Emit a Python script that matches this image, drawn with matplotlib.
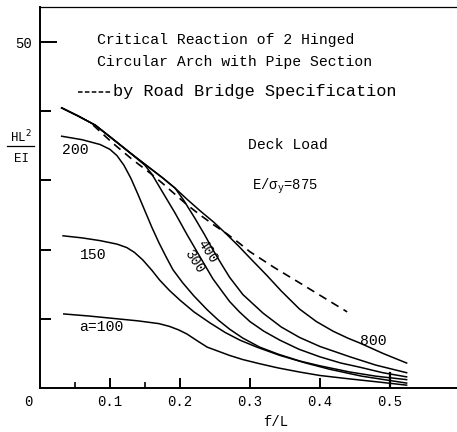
#critical reaction of 2 hinged circular arch, deck load
#curves
import matplotlib.pyplot as plt
from matplotlib.lines import Line2D

plt.rcParams['font.family'] = ['Liberation Mono', 'DejaVu Sans']

#a = 800
x800 = [0.031, 0.055, 0.079, 0.104, 0.13, 0.157, 0.175, 0.193, 0.21, 0.229, 0.248, 0.267, 0.284,
        0.300, 0.324, 0.345, 0.371, 0.395, 0.419, 0.44, 0.457, 0.49, 0.524]
y800 = [40.5, 39.3, 38.0, 36.0, 33.9, 31.8, 30.4, 28.9, 27.3, 25.6, 24.0, 22.2, 20.5,
        18.8, 16.3, 14.0, 11.4, 9.6, 8.2, 7.2, 6.5, 5.0, 3.6]
#a = 400
x400 = [0.031, 0.055, 0.079, 0.104, 0.13, 0.157, 0.175, 0.193, 0.205, 0.221, 0.235, 0.247, 0.26,
        0.271, 0.29, 0.319, 0.345, 0.371, 0.40, 0.443, 0.48, 0.524]
y400 = [40.5, 39.3, 38.0, 36.0, 33.9, 31.8, 30.4, 28.9, 27.2, 24.6, 22.2, 20.0, 17.8,
        16.0, 13.5, 10.8, 8.8, 7.3, 6.0, 4.5, 3.3, 2.2]
#a = 300
x300 = [0.031, 0.055, 0.079, 0.104, 0.13, 0.150, 0.160, 0.170, 0.180, 0.193, 0.210, 0.229, 0.247,
        0.26, 0.271, 0.285, 0.300, 0.32, 0.343, 0.37, 0.400, 0.43, 0.457, 0.49, 0.524]
y300 = [40.5, 39.3, 38.0, 36.0, 33.9, 32.2, 30.9, 29.2, 27.5, 25.3, 22.2, 18.9, 15.8,
        14.0, 12.5, 11.0, 9.6, 8.2, 6.9, 5.6, 4.5, 3.6, 3.0, 2.2, 1.6]
#a = 200
x200 = [0.031, 0.06, 0.086, 0.10, 0.11, 0.12, 0.13, 0.14, 0.15, 0.16, 0.17, 0.18, 0.19, 0.204,
        0.22, 0.239, 0.255, 0.271, 0.29, 0.314, 0.34, 0.371, 0.40, 0.443, 0.48, 0.524]
y200 = [36.4, 35.9, 35.2, 34.5, 33.6, 32.2, 30.3, 28.0, 25.6, 23.2, 21.0, 19.0, 17.1, 15.2,
        13.3, 11.3, 9.8, 8.5, 7.2, 5.9, 4.9, 3.9, 3.2, 2.3, 1.7, 1.2]
#a = 150
x150 = [0.033, 0.06, 0.086, 0.11, 0.124, 0.135, 0.147, 0.16, 0.171, 0.185, 0.200, 0.22, 0.243,
        0.265, 0.286, 0.31, 0.343, 0.38, 0.414, 0.46, 0.524]
y150 = [22.0, 21.7, 21.3, 20.8, 20.3, 19.6, 18.5, 17.0, 15.6, 14.1, 12.7, 11.0, 9.4,
        8.0, 6.9, 5.9, 4.7, 3.6, 2.7, 1.7, 0.7]
#a = 100
x100 = [0.034, 0.07, 0.10, 0.14, 0.17, 0.185, 0.198, 0.210, 0.225, 0.239, 0.255, 0.271, 0.29,
        0.314, 0.34, 0.371, 0.40, 0.443, 0.48, 0.524]
y100 = [10.7, 10.4, 10.1, 9.7, 9.3, 8.9, 8.4, 7.8, 6.8, 5.9, 5.3, 4.7, 4.1,
        3.5, 2.9, 2.3, 1.8, 1.3, 0.9, 0.4]
#road bridge specification
xspec = [0.076, 0.09, 0.104, 0.13, 0.157, 0.175, 0.193, 0.21, 0.229, 0.248, 0.267, 0.284, 0.300,
         0.335, 0.371, 0.405, 0.439]
yspec = [38.0, 36.7, 35.4, 33.2, 31.1, 29.6, 28.0, 26.5, 25.0, 23.6, 22.3, 21.0, 19.7,
         17.4, 15.2, 13.1, 11.0]

curves = [(x800, y800), (x400, y400), (x300, y300), (x200, y200), (x150, y150), (x100, y100)]

fig = plt.figure(figsize=(4.57, 4.32), dpi=100)
ax = fig.add_axes([0.0875, 0.102, 0.9125, 0.882])
for xs, ys in curves:
    ax.plot(xs, ys, 'k-', lw=1.1)
ax.plot(xspec, yspec, 'k-', lw=1.2, dashes=(5, 3.5))

ax.set_xlim(0, 0.596)
ax.set_ylim(0, 55.1)
ax.spines['right'].set_visible(False)
for s in ['left', 'bottom']:
    ax.spines[s].set_linewidth(1.4)
ax.spines['top'].set_linewidth(0.9)

#ticks inward, only 50 labelled on y
ax.set_yticks([10, 20, 30, 40])
ax.set_yticklabels([])
ax.tick_params(axis='y', direction='in', length=8, width=1.4)
ax.set_yticks([50], minor=True)
ax.set_yticklabels(['50'], minor=True)
ax.tick_params(axis='y', which='minor', direction='in', length=12, width=1.4, labelsize=10, pad=6)

ax.set_xticks([0.1, 0.2, 0.3, 0.4, 0.5])
ax.set_xticklabels(['0.1', '0.2', '0.3', '0.4', '0.5'])
ax.set_xticks([0.05, 0.15], minor=True)
ax.tick_params(axis='x', direction='in', length=7, width=1.4, labelsize=10, pad=5)
ax.tick_params(axis='x', which='minor', direction='in', length=4.5, width=1.2)
ax.axvline(0.5, ymax=0.04, color='k', lw=1.6)
ax.text(-0.016, -1.0, '0', ha='center', va='top', fontsize=10, clip_on=False)

ax.text(0.337, -4.9, 'f/L', ha='center', va='center', fontsize=10, clip_on=False)
fig.text(0.046, 0.683, 'HL$^2$', ha='center', va='center', fontsize=9)
fig.add_artist(Line2D([0.016, 0.074], [0.663, 0.663], color='k', lw=0.9))
fig.text(0.046, 0.632, 'EI', ha='center', va='center', fontsize=9)

#titles and annotations
ax.text(0.081, 50.3, 'Critical Reaction of 2 Hinged', va='center', fontsize=10.6)
ax.text(0.081, 47.1, 'Circular Arch with Pipe Section', va='center', fontsize=10.6)
ax.plot([0.054, 0.101], [42.8, 42.8], 'k-', lw=1.1, dashes=(3, 1.5))
ax.text(0.104, 42.8, 'by Road Bridge Specification', va='center', fontsize=12.2)
ax.text(0.297, 35.1, 'Deck Load', va='center', fontsize=10.6)
ax.text(0.303, 29.2, 'E/σ$_\\mathregular{y}$=875', va='center', fontsize=10)

ax.text(0.031, 34.4, '200', va='center', fontsize=10.6)
ax.text(0.057, 19.2, '150', va='center', fontsize=10.6)
ax.text(0.056, 8.8, 'a=100', va='center', fontsize=10.6)
ax.text(0.457, 6.8, '800', va='center', fontsize=10.6)
ax.text(0.239, 19.7, '400', ha='center', va='center', rotation=-57, fontsize=10)
ax.text(0.221, 18.3, '300', ha='center', va='center', rotation=-57, fontsize=10)

fig.savefig('out.png', dpi=100)
